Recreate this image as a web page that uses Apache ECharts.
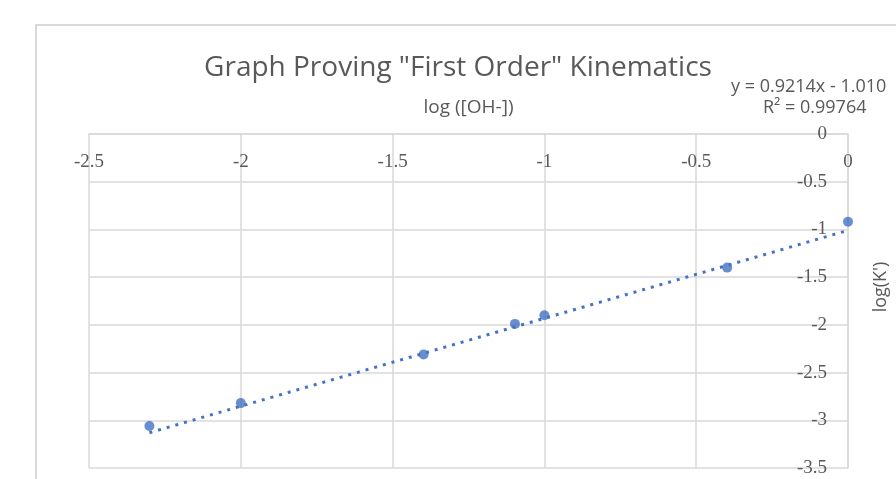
<!DOCTYPE html>
<html>
<head>
<meta charset="utf-8">
<script src="https://cdn.jsdelivr.net/npm/echarts@6/dist/echarts.min.js"></script>
<style>
html,body{margin:0;padding:0;background:#fff;overflow:hidden;}
#c{width:896px;height:479px;}
</style>
</head>
<body>
<div id="c"></div>
<script>
// Data
var logOH = [-2.301, -2.0, -1.398, -1.097, -1.0, -0.398, 0.0];
var logK = [-3.06, -2.82, -2.31, -1.99, -1.90, -1.40, -0.92];
var trendSlope = 0.9214;
var trendIntercept = -1.010;
var trendLabel = 'y = 0.9214x - 1.010';
var r2Label = 'R\u00b2 = 0.99764';
var chartTitle = 'Graph Proving "First Order" Kinematics';
var xName = 'log ([OH-])';
var yName = "log(K')";

var points = logOH.map(function(x, i){ return [x, logK[i]]; });
var xMin = Math.min.apply(null, logOH), xMax = Math.max.apply(null, logOH);
var trend = [[xMin, trendSlope * xMin + trendIntercept], [xMax, trendSlope * xMax + trendIntercept]];

var gridColor = '#d9d9d9';
var textColor = '#595959';
var chart = echarts.init(document.getElementById('c'), null, {renderer: 'canvas'});
chart.setOption({
  animation: false,
  backgroundColor: '#fff',
  grid: {left: 89, right: 48, top: 134, bottom: 11, containLabel: false, outerBoundsMode: 'none'},
  graphic: [
    {type: 'rect', shape: {x: 36, y: 25, width: 900, height: 500}, style: {fill: 'none', stroke: gridColor, lineWidth: 2}, z: 0},
    {type: 'text', x: 458, y: 68, style: {text: chartTitle, fill: textColor, font: '28px "Open Sans", sans-serif', textAlign: 'center', textVerticalAlign: 'middle'}},
    {type: 'text', x: 731, y: 87, style: {text: trendLabel, fill: textColor, font: '18px "Open Sans", sans-serif', textAlign: 'left', textVerticalAlign: 'middle'}},
    {type: 'text', x: 763, y: 108, style: {text: r2Label, fill: textColor, font: '18px "Open Sans", sans-serif', textAlign: 'left', textVerticalAlign: 'middle'}}
  ],
  xAxis: {
    type: 'value', min: -2.5, max: 0, interval: 0.5, position: 'top',
    name: xName, nameLocation: 'middle', nameGap: 17,
    nameTextStyle: {color: textColor, fontSize: 19, fontFamily: '"Open Sans", sans-serif'},
    axisLine: {show: true, onZero: false, lineStyle: {color: gridColor, width: 1.5}},
    axisTick: {show: false},
    axisLabel: {inside: true, margin: 19, color: textColor, fontSize: 19, fontFamily: '"Liberation Serif", serif', showMinLabel: true, showMaxLabel: true},
    splitLine: {show: true, lineStyle: {color: gridColor, width: 1.5}}
  },
  yAxis: {
    type: 'value', min: -3.5, max: 0, interval: 0.5, position: 'right',
    name: yName, nameLocation: 'middle', nameGap: 24, nameRotate: 90,
    nameTextStyle: {color: textColor, fontSize: 18, fontFamily: '"Open Sans", sans-serif', padding: [0, 0, 0, 28]},
    axisLine: {show: true, onZero: false, lineStyle: {color: gridColor, width: 1.5}},
    axisTick: {show: false},
    axisLabel: {inside: true, margin: 21, color: textColor, fontSize: 19, fontFamily: '"Liberation Serif", serif', showMinLabel: true, showMaxLabel: true},
    splitLine: {show: true, lineStyle: {color: gridColor, width: 1.5}}
  },
  series: [
    {type: 'line', data: trend, symbol: 'none', clip: false, z: 2,
     lineStyle: {color: '#4472C4', width: 3, type: [3, 6], cap: 'butt'}},
    {type: 'scatter', data: points, symbol: 'circle', symbolSize: 10, clip: false, z: 3,
     itemStyle: {color: '#4472C4'}}
  ]
});
</script>
</body>
</html>
